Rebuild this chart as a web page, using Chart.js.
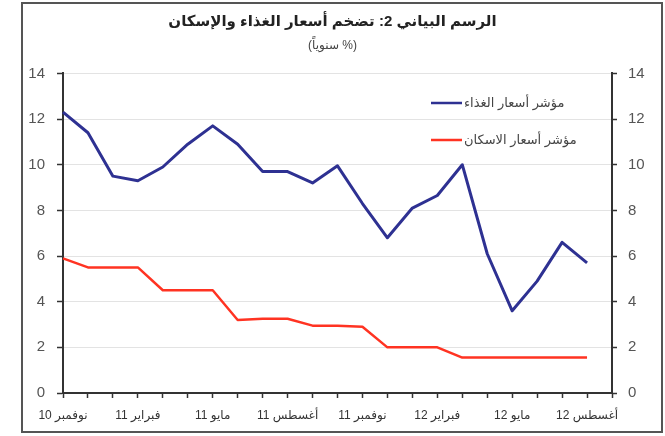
<!DOCTYPE html>
<html lang="ar">
<head>
<meta charset="utf-8">
<script src="https://cdn.jsdelivr.net/npm/chart.js@4/dist/chart.umd.min.js"></script>
<style>
  html, body { margin: 0; padding: 0; background: #fff; }
  canvas { display: block; }
</style>
</head>
<body>
<canvas id="chart" width="665" height="436"></canvas>
<script>
var months = [
  "نوفمبر 10", "ديسمبر 10", "يناير 11", "فبراير 11", "مارس 11", "أبريل 11",
  "مايو 11", "يونيو 11", "يوليو 11", "أغسطس 11", "سبتمبر 11", "أكتوبر 11",
  "نوفمبر 11", "ديسمبر 11", "يناير 12", "فبراير 12", "مارس 12", "أبريل 12",
  "مايو 12", "يونيو 12", "يوليو 12", "أغسطس 12", "سبتمبر 12"
];
var labelStep = 3;

var foodIndex = [12.3, 11.4, 9.5, 9.3, 9.9, 10.9, 11.7, 10.9, 9.7, 9.7, 9.2, 9.95,
  8.3, 6.8, 8.1, 8.65, 10.0, 6.1, 3.6, 4.9, 6.6, 5.7, null];
var housingIndex = [5.9, 5.5, 5.5, 5.5, 4.5, 4.5, 4.5, 3.2, 3.25, 3.25, 2.95, 2.95,
  2.9, 2.0, 2.0, 2.0, 1.55, 1.55, 1.55, 1.55, 1.55, 1.55, null];

var seriesNames = ["مؤشر أسعار الغذاء", "مؤشر أسعار الاسكان"];
var yMin = 0, yMax = 14, yStep = 2;

Chart.defaults.font.family = "'Liberation Sans', Arial, 'DejaVu Sans', sans-serif";

// frame round the whole figure
var framePlugin = {
  id: "frame",
  beforeDraw: function (chart) {
    var ctx = chart.ctx;
    ctx.save();
    ctx.strokeStyle = "#555";
    ctx.lineWidth = 2;
    ctx.strokeRect(22, 3, 640, 429);
    ctx.restore();
  }
};

// legend inside the plot, top right
var innerLegend = {
  id: "innerLegend",
  afterDraw: function (chart) {
    var ctx = chart.ctx;
    var ds = chart.data.datasets;
    ctx.save();
    ctx.font = "13px 'Liberation Sans', Arial, 'DejaVu Sans', sans-serif";
    ctx.textBaseline = "middle";
    ctx.textAlign = "left";
    for (var i = 0; i < ds.length; i++) {
      var y = 103 + i * 37;
      ctx.strokeStyle = ds[i].borderColor;
      ctx.lineWidth = 2.5;
      ctx.beginPath();
      ctx.moveTo(431, y);
      ctx.lineTo(462, y);
      ctx.stroke();
      ctx.fillStyle = "#444";
      ctx.fillText(ds[i].label, 464, y);
    }
    ctx.restore();
  }
};

new Chart(document.getElementById("chart").getContext("2d"), {
  type: "line",
  data: {
    labels: months,
    datasets: [
      {
        label: seriesNames[0],
        data: foodIndex,
        borderColor: "#2e3192",
        borderWidth: 3,
        pointRadius: 0,
        tension: 0,
        borderJoinStyle: "round"
      },
      {
        label: seriesNames[1],
        data: housingIndex,
        borderColor: "#ff3322",
        borderWidth: 2.5,
        pointRadius: 0,
        tension: 0,
        borderJoinStyle: "round"
      }
    ]
  },
  options: {
    responsive: false,
    animation: false,
    layout: { padding: 0 },
    plugins: {
      legend: { display: false },
      tooltip: { enabled: false },
      title: {
        display: true,
        text: "الرسم البياني 2: تضخم أسعار الغذاء والإسكان",
        color: "#222",
        font: { size: 15, weight: "bold" },
        padding: { top: 13, bottom: 4 }
      },
      subtitle: {
        display: true,
        // LRM pins the order so the % sits next to the closing bracket
        text: "\u200E(سنوياً %)",
        color: "#444",
        font: { size: 12 },
        padding: { top: 3, bottom: 21 }
      }
    },
    scales: {
      x: {
        offset: false,
        grid: { drawOnChartArea: false, tickLength: 5, tickColor: "#333", tickWidth: 1.5 },
        border: { color: "#333", width: 2 },
        ticks: {
          autoSkip: false,
          maxRotation: 0,
          padding: 10,
          color: "#333",
          font: { size: 12 },
          callback: function (v, i) {
            return i % labelStep === 0 ? this.getLabelForValue(v) : "";
          }
        },
        afterFit: function (s) { s.height = 43; }
      },
      y: {
        position: "left",
        min: yMin,
        max: yMax,
        grid: { color: "#e3e3e3", tickColor: "#333", tickLength: 6, tickWidth: 1.5 },
        border: { color: "#333", width: 2 },
        ticks: { stepSize: yStep, padding: 12, color: "#555", font: { size: 15 } },
        afterFit: function (s) { s.width = 63; }
      },
      y2: {
        type: "linear",
        position: "right",
        min: yMin,
        max: yMax,
        grid: { drawOnChartArea: false, tickColor: "#333", tickLength: 5, tickWidth: 1.5 },
        border: { color: "#333", width: 2 },
        ticks: { stepSize: yStep, padding: 11, color: "#555", font: { size: 15 } },
        afterFit: function (s) { s.width = 53; }
      }
    }
  },
  plugins: [framePlugin, innerLegend]
});
</script>
</body>
</html>
